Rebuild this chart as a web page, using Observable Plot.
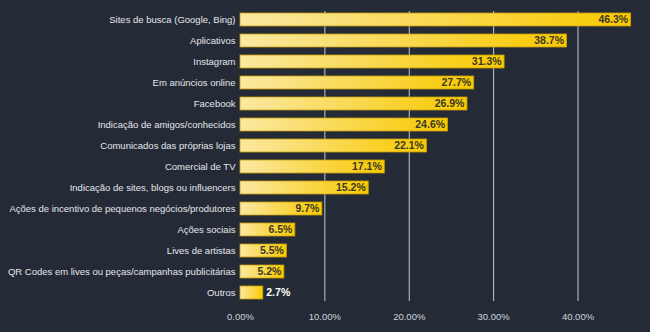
<!DOCTYPE html>
<html>
<head>
<meta charset="utf-8">
<script src="https://cdn.jsdelivr.net/npm/d3@7"></script>
<script src="https://cdn.jsdelivr.net/npm/@observablehq/plot@0.6"></script>
<style>
  html, body { margin: 0; padding: 0; background: #242b37; }
  #chart { width: 650px; height: 332px; }
</style>
</head>
<body>
<div id="chart"></div>
<script>
const categories = [
  "Sites de busca (Google, Bing)",
  "Aplicativos",
  "Instagram",
  "Em anúncios online",
  "Facebook",
  "Indicação de amigos/conhecidos",
  "Comunicados das próprias lojas",
  "Comercial de TV",
  "Indicação de sites, blogs ou influencers",
  "Ações de incentivo de pequenos negócios/produtores",
  "Ações sociais",
  "Lives de artistas",
  "QR Codes em lives ou peças/campanhas publicitárias",
  "Outros"
];
const values = [46.3, 38.7, 31.3, 27.7, 26.9, 24.6, 22.1, 17.1, 15.2, 9.7, 6.5, 5.5, 5.2, 2.7];
const xTicks = [0, 10, 20, 30, 40];
const gridTicks = [10, 20, 30, 40];
const outsideLabels = ["Outros"];

const data = categories.map((c, i) => ({category: c, value: values[i]}));
const inside = data.filter(d => !outsideLabels.includes(d.category));
const outside = data.filter(d => outsideLabels.includes(d.category));

const gradientDefs = () => {
  const ns = "http://www.w3.org/2000/svg";
  const defs = document.createElementNS(ns, "defs");
  const lg = document.createElementNS(ns, "linearGradient");
  lg.setAttribute("id", "goldGrad");
  lg.setAttribute("x1", "0"); lg.setAttribute("x2", "1");
  lg.setAttribute("y1", "0"); lg.setAttribute("y2", "0");
  [["0%", "#fbe8a2"], ["100%", "#f8c900"]].forEach(([o, c]) => {
    const s = document.createElementNS(ns, "stop");
    s.setAttribute("offset", o); s.setAttribute("stop-color", c);
    lg.appendChild(s);
  });
  defs.appendChild(lg);
  return defs;
};

const font = "'Liberation Sans', Arial, Helvetica, sans-serif";

const chart = Plot.plot({
  width: 650,
  height: 332,
  marginLeft: 240,
  marginRight: 5,
  marginTop: 11,
  marginBottom: 31,
  style: {background: "#242b37", color: "#e4e6ea", fontFamily: font, fontSize: "10px", overflow: "visible"},
  x: {domain: [0, 48], ticks: xTicks, tickFormat: d => d.toFixed(2) + "%", label: null},
  y: {domain: categories, paddingInner: 0.39, paddingOuter: 0, label: null},
  marks: [
    gradientDefs,
    Plot.ruleX(gridTicks, {stroke: "#c4c8d0", strokeWidth: 1}),
    Plot.barX(data, {x: "value", y: "category", fill: "url(#goldGrad)", stroke: "#c79f08", strokeWidth: 0.8}),
    Plot.text(inside, {x: "value", y: "category", text: d => d.value.toFixed(1) + "%", textAnchor: "end", dx: -3, fill: "#3a3826", fontWeight: "bold", fontSize: 10.5}),
    Plot.text(outside, {x: "value", y: "category", text: d => d.value.toFixed(1) + "%", textAnchor: "start", dx: 3, fill: "#ffffff", fontWeight: "bold", fontSize: 10.5}),
    Plot.axisX({ticks: xTicks, tickFormat: d => d.toFixed(2) + "%", tickSize: 0, tickPadding: 12, fill: "#cfd3da", fontSize: 9.5, label: null}),
    Plot.axisY({tickSize: 0, tickPadding: 5, fill: "#e4e6ea", fontSize: 9.5, label: null})
  ]
});
document.getElementById("chart").appendChild(chart);
</script>
</body>
</html>
